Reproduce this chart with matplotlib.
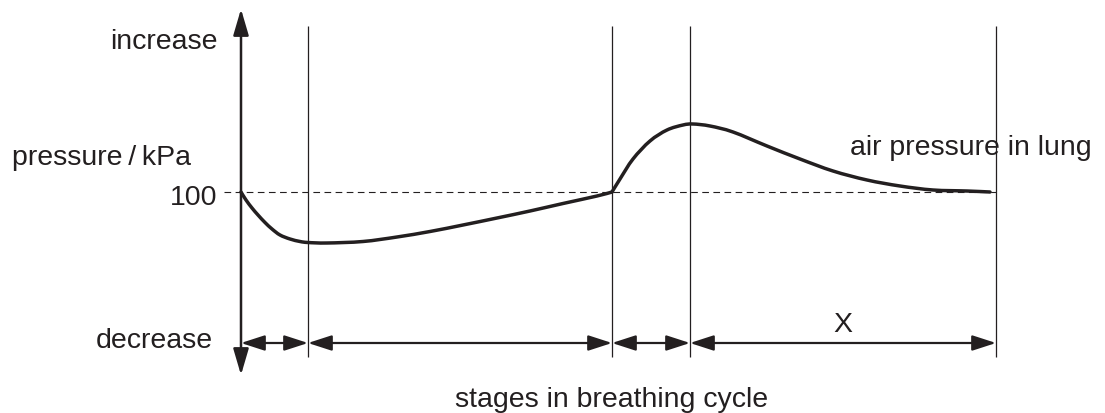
import matplotlib
matplotlib.use('Agg')
import matplotlib.pyplot as plt
from matplotlib.path import Path
from matplotlib.patches import PathPatch

# time along the cycle (arbitrary units) and lung air pressure (kPa, schematic)
t_fall = [0, 0.5, 1.1, 1.7, 2.4, 3.1, 3.9, 4.9, 5.9, 6.7, 8.6, 12.2, 15.6, 18.9, 22.2, 25.6, 28.9, 32.2, 35.6, 37.1]
p_fall = [100, 99.2, 98.4, 97.7, 96.95, 96.3, 95.7, 95.3, 95.05, 94.95, 94.9, 95.05, 95.5, 96.05, 96.7, 97.4, 98.1, 98.85, 99.6, 100]
t_rise = [37.1, 37.9, 39.2, 40.9, 42.6, 44.2, 45.2, 46.9, 49.2, 52.6, 55.9, 59.2, 62.6, 65.9, 69.2, 72.6, 74.9]
p_rise = [100, 101.3, 103.3, 105.1, 106.2, 106.7, 106.8, 106.6, 106.0, 104.6, 103.3, 102.1, 101.2, 100.6, 100.2, 100.1, 100.0]

stage_edges = [0, 6.7, 37.1, 44.9, 75.5]
baseline = 100
stage_label = 'X'

INK = '#231f20'
FONT = ['Liberation Sans', 'DejaVu Sans']
FS = 20.5


def smooth_path(xs, ys):
    """Catmull-Rom through the points, as cubic Bezier segments."""
    pts = list(zip(xs, ys))
    ext = [pts[0]] + pts + [pts[-1]]
    verts = [pts[0]]
    codes = [Path.MOVETO]
    for i in range(1, len(ext) - 2):
        p0, p1, p2, p3 = ext[i - 1], ext[i], ext[i + 1], ext[i + 2]
        c1 = (p1[0] + (p2[0] - p0[0]) / 6, p1[1] + (p2[1] - p0[1]) / 6)
        c2 = (p2[0] - (p3[0] - p1[0]) / 6, p2[1] - (p3[1] - p1[1]) / 6)
        verts += [c1, c2, p2]
        codes += [Path.CURVE4] * 3
    return Path(verts, codes)


fig = plt.figure(figsize=(11.05, 4.14), dpi=100)
ax = fig.add_axes([0, 0, 1, 1])
ax.set_xlim(-24.1, 86.4)
ax.set_ylim(77.9, 119.3)
ax.axis('off')

# pressure axis with arrows both ends
ax.annotate('', xy=(0, 118.3), xytext=(0, 81.7),
            arrowprops=dict(arrowstyle='<|-|>,head_length=1.6,head_width=0.47',
                            mutation_scale=10, lw=1.8, color=INK,
                            shrinkA=0, shrinkB=0))

# stage boundaries
for x in stage_edges[1:]:
    ax.plot([x, x], [83.5, 116.6], color=INK, lw=0.9, solid_capstyle='butt')

# atmospheric pressure reference
ax.plot([-1.7, stage_edges[-1]], [baseline, baseline], color=INK, lw=0.8,
        linestyle=(0, (6, 4)))

# pressure curve: two smooth pieces meeting at the corner
for xs, ys in [(t_fall, p_fall), (t_rise, p_rise)]:
    ax.add_patch(PathPatch(smooth_path(xs, ys), fill=False, edgecolor=INK,
                           lw=2.5, joinstyle='round', capstyle='round'))

# stage arrows
for a, b in zip(stage_edges[:-1], stage_edges[1:]):
    ax.annotate('', xy=(b, 84.9), xytext=(a, 84.9),
                arrowprops=dict(arrowstyle='<|-|>,head_length=1.45,head_width=0.47',
                                mutation_scale=10, lw=1.6, color=INK,
                                shrinkA=0, shrinkB=0))

txt = dict(fontsize=FS, color=INK, family=FONT, va='baseline')
ax.text(-2.3, 114.4, 'increase', ha='right', **txt)
ax.text(-22.9, 102.8, 'pressure\u2009/\u2009kPa', ha='left', **txt)
ax.text(-2.4, 98.8, '100', ha='right', **txt)
ax.text(-2.8, 84.5, 'decrease', ha='right', **txt)
ax.text(60.9, 103.8, 'air pressure in lung', ha='left', **txt)
ax.text(60.2, 86.1, stage_label, ha='center', **txt)
ax.text(37.1, 78.6, 'stages in breathing cycle', ha='center', **txt)

fig.savefig('out.png', dpi=100)
